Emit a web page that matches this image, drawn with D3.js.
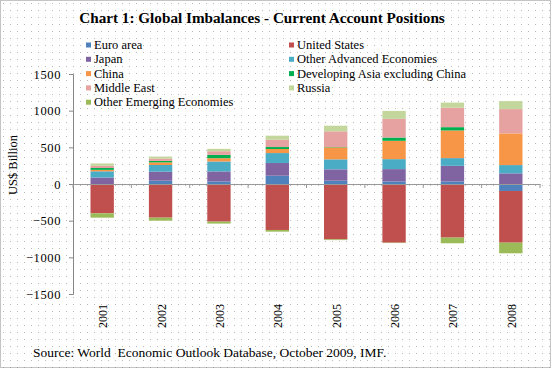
<!DOCTYPE html>
<html>
<head>
<meta charset="utf-8">
<script src="https://cdn.jsdelivr.net/npm/d3@7"></script>
<style>
  body { margin: 0; background: #fff; }
  svg { display: block; }
  svg text { font-family: "Liberation Serif", "Times New Roman", serif; }
</style>
</head>
<body>
<div id="chart"></div>
<script>
// data (US$ billion)
const years = ['2001', '2002', '2003', '2004', '2005', '2006', '2007', '2008'];
const euroArea = [0, 45, 35, 113, 45, 35, 35, -95];
const unitedStates = [-400, -459, -513, -627, -755, -800, -731, -705];
const japan = [88, 123, 136, 173, 155, 168, 213, 145];
const otherAdvanced = [85, 91, 136, 136, 136, 136, 105, 113];
const china = [20, 36, 45, 55, 164, 250, 377, 432];
const devAsia = [25, 20, 45, 27, 5, 45, 45, 0];
const middleEast = [30, 32, 50, 100, 213, 254, 267, 331];
const russia = [32, 27, 32, 55, 77, 109, 68, 109];
const otherEmerging = [-59, -41, -27, -23, -10, -5, -77, -145];
const yTicks = [-1500, -1000, -500, 0, 500, 1000, 1500];

const seriesNames = ['Euro area', 'United States', 'Japan', 'Other Advanced Economies', 'China',
  'Developing Asia excluding China', 'Middle East', 'Russia', 'Other Emerging Economies'];
const seriesValues = [euroArea, unitedStates, japan, otherAdvanced, china, devAsia, middleEast, russia, otherEmerging];
const colors = ['#4f81bd', '#c0504d', '#8064a2', '#4bacc6', '#f79646', '#00b050', '#e6a1a1', '#c3d69b', '#9bbb59'];

const width = 554;
const height = 369;
const serif = '"Liberation Serif", "Times New Roman", serif';

const rows = years.map((yr, i) => {
  const r = { year: yr };
  seriesNames.forEach((s, j) => { r[s] = seriesValues[j][i]; });
  return r;
});

const svg = d3.select('#chart').append('svg')
  .attr('width', width)
  .attr('height', height)
  .attr('font-family', serif);

// dotted background
const defs = svg.append('defs');
const pat = defs.append('pattern')
  .attr('id', 'dots')
  .attr('width', 7)
  .attr('height', 7)
  .attr('patternUnits', 'userSpaceOnUse');
pat.append('rect').attr('width', 7).attr('height', 7).attr('fill', '#fff');
pat.append('rect').attr('x', 3).attr('y', 3).attr('width', 1).attr('height', 1).attr('fill', '#b8b8b8');

svg.append('rect')
  .attr('x', 0).attr('y', 0)
  .attr('width', width).attr('height', height)
  .attr('fill', 'url(#dots)');

// outer border
svg.append('rect')
  .attr('x', 0.5).attr('y', 0.5)
  .attr('width', 550).attr('height', 367)
  .attr('fill', 'none')
  .attr('stroke', '#888')
  .attr('stroke-dasharray', '1,1');

// title
svg.append('text')
  .attr('x', 262)
  .attr('y', 23)
  .attr('text-anchor', 'middle')
  .attr('font-weight', 'bold')
  .attr('font-size', '15.2px')
  .text('Chart 1: Global Imbalances - Current Account Positions');

// scales
const plot = { left: 73, right: 540, top: 74, bottom: 294 };

const x = d3.scaleBand()
  .domain(years)
  .range([plot.left, plot.right])
  .paddingInner(0.6)
  .paddingOuter(0.3);

const y = d3.scaleLinear()
  .domain([-1500, 1500])
  .range([plot.bottom, plot.top]);

const stack = d3.stack()
  .keys(seriesNames)
  .offset(d3.stackOffsetDiverging);

const layers = stack(rows);

svg.append('g')
  .selectAll('g')
  .data(layers)
  .join('g')
  .attr('fill', (d, i) => colors[i])
  .selectAll('rect')
  .data((d) => d)
  .join('rect')
  .attr('x', (d) => x(d.data.year))
  .attr('width', x.bandwidth())
  .attr('y', (d) => y(Math.max(d[0], d[1])))
  .attr('height', (d) => Math.abs(y(d[0]) - y(d[1])));

// y axis
const yAxis = d3.axisLeft(y).tickValues(yTicks).tickFormat(d3.format('d')).tickSize(4).tickPadding(8);
const yg = svg.append('g')
  .attr('transform', `translate(${plot.left},0)`)
  .call(yAxis)
  .attr('font-family', serif)
  .attr('font-size', '12.5px');
yg.select('.domain').attr('stroke', '#888');
yg.selectAll('.tick line').attr('stroke', '#888');
yg.selectAll('.tick text')
  .attr('letter-spacing', '0.6px')
  .attr('fill', '#000');

// zero line with category ticks
const xAxis = d3.axisBottom(x).tickSize(0).tickFormat('');
const xg = svg.append('g')
  .attr('transform', `translate(0,${y(0)})`)
  .call(xAxis);
xg.select('.domain').attr('stroke', '#999');
const step = x.step();
xg.selectAll('.cat-tick')
  .data(d3.range(years.length + 1))
  .join('line')
  .attr('class', 'cat-tick')
  .attr('x1', (d) => plot.left + d * step)
  .attr('x2', (d) => plot.left + d * step)
  .attr('y1', 0)
  .attr('y2', 4)
  .attr('stroke', '#999');

// year labels at the bottom, rotated
svg.append('g')
  .selectAll('text')
  .data(years)
  .join('text')
  .attr('transform', (d) => `translate(${x(d) + x.bandwidth() / 2 + 5},304) rotate(-90)`)
  .attr('text-anchor', 'end')
  .attr('font-size', '12px')
  .text((d) => d);

// y axis title
svg.append('text')
  .attr('transform', 'translate(17,165) rotate(-90)')
  .attr('text-anchor', 'middle')
  .attr('font-size', '12.5px')
  .text('US$ Billion');

// legend, two columns
const legend = svg.append('g');
const item = legend.selectAll('g')
  .data(seriesNames)
  .join('g')
  .attr('transform', (d, i) => `translate(${i % 2 === 0 ? 86 : 289},${45 + Math.floor(i / 2) * 14.3})`);
item.append('rect')
  .attr('x', 0)
  .attr('y', -2.5)
  .attr('width', 5)
  .attr('height', 5)
  .attr('fill', (d, i) => colors[i]);
item.append('text')
  .attr('x', 8)
  .attr('y', 4)
  .attr('font-size', '12.5px')
  .text((d) => d);

// source
svg.append('text')
  .attr('x', 33)
  .attr('y', 357)
  .attr('font-size', '13.5px')
  .style('white-space', 'pre')
  .text('Source: World  Economic Outlook Database, October 2009, IMF.');
</script>
</body>
</html>
